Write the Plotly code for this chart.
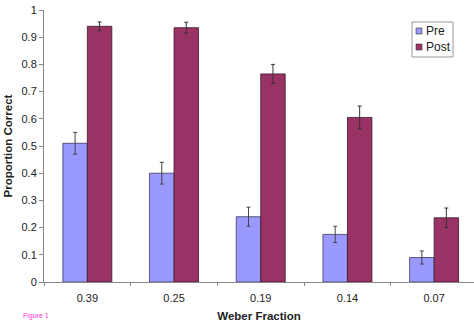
import plotly.graph_objects as go

categories = ["0.39", "0.25", "0.19", "0.14", "0.07"]
pre_values = [0.51, 0.40, 0.24, 0.175, 0.09]
pre_errors = [0.04, 0.04, 0.035, 0.03, 0.024]
post_values = [0.94, 0.935, 0.765, 0.605, 0.236]
post_errors = [0.016, 0.02, 0.035, 0.042, 0.036]
y_ticks = [0, 0.1, 0.2, 0.3, 0.4, 0.5, 0.6, 0.7, 0.8, 0.9, 1]
y_tick_labels = ["0", "0.1", "0.2", "0.3", "0.4", "0.5", "0.6", "0.7", "0.8", "0.9", "1"]
series_names = ["Pre", "Post"]
series_colors = ["#9999FF", "#993366"]

FONT = "Liberation Sans, Arial, sans-serif"
W, H = 474, 324
ML, MR, MT, MB = 44, 0, 10, 42
PW, PH = W - ML - MR, H - MT - MB


def px(x):
    return (x - ML) / PW


def py(y):
    return (H - MB - y) / PH


fig = go.Figure()
fig.add_trace(go.Bar(
    name=series_names[0], x=categories, y=pre_values,
    marker=dict(color=series_colors[0], line=dict(color="#3a3a5a", width=0.8)),
    error_y=dict(type="data", array=pre_errors, color="#444444", thickness=1, width=2),
))
fig.add_trace(go.Bar(
    name=series_names[1], x=categories, y=post_values,
    marker=dict(color=series_colors[1], line=dict(color="#3a1a2a", width=0.8)),
    error_y=dict(type="data", array=post_errors, color="#333333", thickness=1, width=2),
))

fig.update_layout(
    width=W, height=H,
    margin=dict(l=ML, r=MR, t=MT, b=MB, autoexpand=False),
    paper_bgcolor="white", plot_bgcolor="white",
    barmode="group", bargap=0.435, bargroupgap=0,
    font=dict(family=FONT, size=11, color="#222222"),
    showlegend=False,
    xaxis=dict(
        type="category", range=[-0.5, 4.46],
        showline=True, linecolor="#888888", linewidth=1,
        ticks="outside", tickson="boundaries", ticklen=3, tickcolor="#888888",
        showgrid=False, zeroline=False, ticklabelstandoff=6,
        tickfont=dict(size=11, color="#222222"),
        title=dict(text="<b>Weber Fraction</b>", font=dict(size=11.5, color="#222222"), standoff=8),
    ),
    yaxis=dict(
        range=[0, 1], tickvals=y_ticks, ticktext=y_tick_labels,
        showline=True, linecolor="#888888", linewidth=1,
        ticks="outside", ticklen=4, tickcolor="#888888",
        showgrid=False, zeroline=False,
        tickfont=dict(size=11, color="#222222"),
        title=dict(text="<b>Proportion Correct</b>", font=dict(size=11.5, color="#222222"), standoff=6),
    ),
)

# Legend box drawn manually (Excel-style compact legend)
fig.add_shape(type="rect", xref="paper", yref="paper",
              x0=px(412), x1=px(453), y0=py(57), y1=py(22),
              line=dict(color="#999999", width=1), fillcolor="white", layer="above")
for i, (name, col) in enumerate(zip(series_names, series_colors)):
    cy = 31 + i * 16
    fig.add_shape(type="rect", xref="paper", yref="paper",
                  x0=px(416), x1=px(422), y0=py(cy + 3), y1=py(cy - 3),
                  line=dict(color="#333333", width=0.6), fillcolor=col, layer="above")
    fig.add_annotation(text=name, xref="paper", yref="paper",
                       x=px(423.5), y=py(cy), xanchor="left", yanchor="middle",
                       showarrow=False, font=dict(size=12, color="#222222", family=FONT))

fig.add_annotation(
    text="Figure 1", xref="paper", yref="paper",
    x=px(21), y=py(316), xanchor="left", yanchor="middle",
    showarrow=False, font=dict(size=7, color="#ff33dd", family=FONT),
)

fig.write_html("out.html")
